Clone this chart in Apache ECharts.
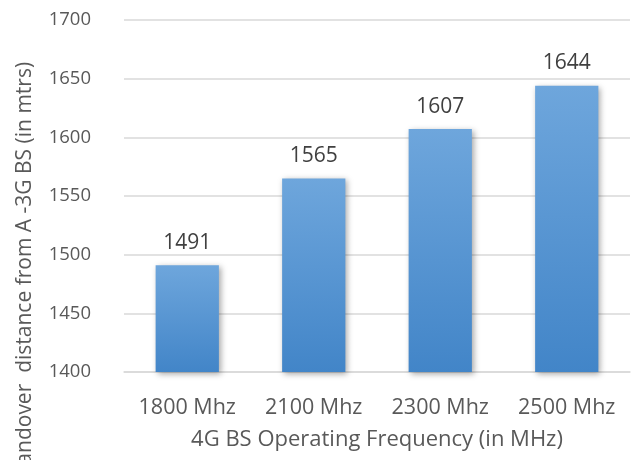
<!DOCTYPE html>
<html>
<head>
<meta charset="utf-8">
<script src="https://cdn.jsdelivr.net/npm/echarts@6/dist/echarts.min.js"></script>
<style>
  html, body { margin: 0; padding: 0; background: #ffffff; }
  #chart { width: 633px; height: 460px; }
</style>
</head>
<body>
<div id="chart"></div>
<script>
// Handover distance per 4G operating frequency
const categories = ['1800 Mhz', '2100 Mhz', '2300 Mhz', '2500 Mhz'];
const distances = [1491, 1565, 1607, 1644];
const yMin = 1400;
const yMax = 1700;
const yStep = 50;

const xTitle = '4G BS Operating Frequency (in MHz)';
const yTitle = 'Handover  distance from A -3G BS (in mtrs)';

const textColor = '#595959';
const gridColor = '#d9d9d9';
const fontFamily = '"Open Sans", "Noto Sans", sans-serif';

const chart = echarts.init(document.getElementById('chart'), null, { renderer: 'canvas' });

chart.setOption({
  animation: false,
  backgroundColor: '#ffffff',
  grid: { left: 124, right: 3, top: 20, bottom: 88 },
  xAxis: {
    type: 'category',
    data: categories,
    axisLine: { show: true, lineStyle: { color: gridColor, width: 1.5 } },
    axisTick: { show: false },
    axisLabel: { color: textColor, fontSize: 21.5, fontFamily: fontFamily, margin: 25, interval: 0 },
    name: xTitle,
    nameLocation: 'middle',
    nameGap: 57,
    nameTextStyle: { color: textColor, fontSize: 22, fontFamily: fontFamily }
  },
  yAxis: {
    type: 'value',
    min: yMin,
    max: yMax,
    interval: yStep,
    axisLine: { show: false },
    axisTick: { show: false },
    splitLine: { lineStyle: { color: gridColor, width: 1.5 } },
    axisLabel: {
      color: textColor,
      fontSize: 18.5,
      fontFamily: fontFamily,
      margin: 33,
      formatter: (v) => String(v)
    }
  },
  graphic: [{
    type: 'text',
    x: 25,
    y: 271,
    rotation: Math.PI / 2,
    style: {
      text: yTitle,
      fill: textColor,
      fontSize: 21,
      fontFamily: fontFamily,
      align: 'center',
      verticalAlign: 'middle'
    }
  }],
  series: [{
    type: 'bar',
    data: distances,
    barWidth: '50%',
    itemStyle: {
      color: new echarts.graphic.LinearGradient(0, 0, 0, 1, [
        { offset: 0, color: '#6ea6dc' },
        { offset: 1, color: '#4285c8' }
      ]),
      shadowColor: 'rgba(0,0,0,0.35)',
      shadowBlur: 6,
      shadowOffsetX: 2,
      shadowOffsetY: 2
    },
    label: {
      show: true,
      position: 'top',
      distance: 12,
      color: '#404040',
      fontSize: 21,
      fontFamily: fontFamily
    }
  }]
});
</script>
</body>
</html>
